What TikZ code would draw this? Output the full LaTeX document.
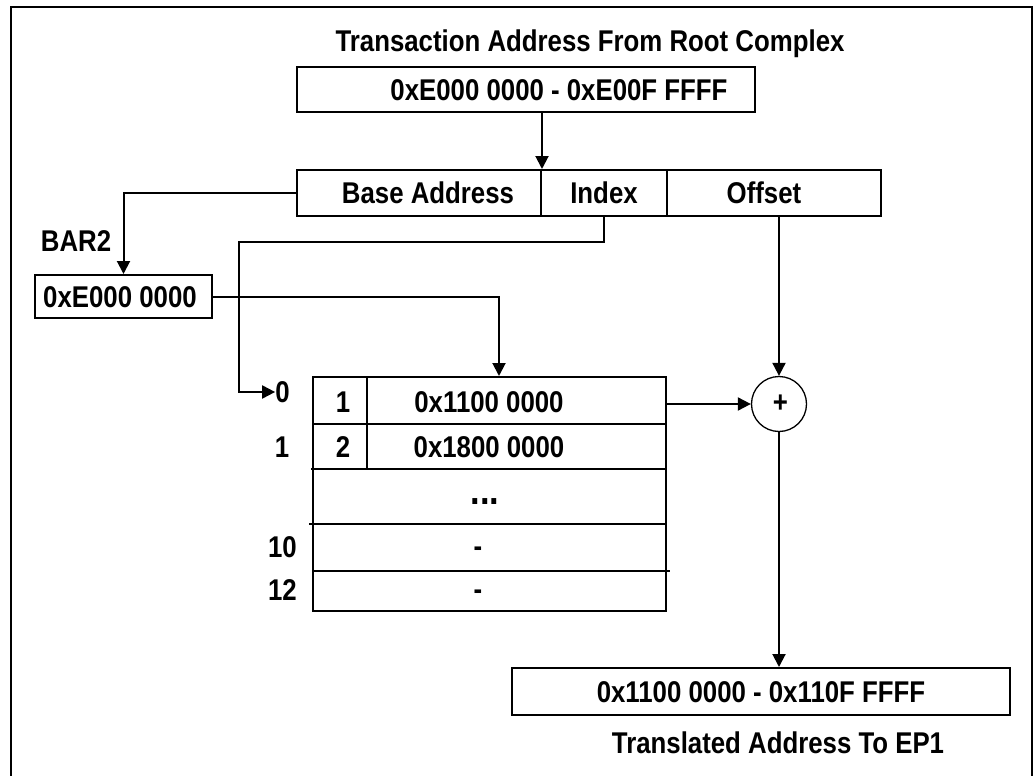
\documentclass[tikz,border=0pt]{standalone}
\usepackage{fontspec}
\setmainfont{Liberation Sans}[FakeStretch=0.86]
\usetikzlibrary{arrows.meta}
\tikzset{
  lbl/.style={font=\bfseries\fontsize{30}{32}\selectfont, inner sep=0pt,
              text height=21.5pt, text depth=0pt},
  box/.style={lbl, draw, line width=2pt},
  wire/.style={line width=2pt},
  arr/.style={wire, -{Triangle[length=13pt,width=13pt]}},
  sum/.style={draw, circle, line width=1.3pt, minimum size=55pt, inner sep=0pt},
}
\begin{document}
\begin{tikzpicture}[x=1pt,y=-1pt]
  \useasboundingbox (0,0) rectangle (1034,776);
  % outer frame (runs off the bottom edge)
  \draw[wire] (11,790) -- (11,7) -- (1032,7) -- (1032,790);

  % incoming transaction address
  \node[lbl] (title) at (590,41) {Transaction Address From Root Complex};
  \node[box, minimum width=458pt, minimum height=45.6pt] (src) at (526,89.5)
       {\hspace*{66pt}0xE000 0000 - 0xE00F FFFF};

  % address split into fields
  \node[box, minimum width=244pt, minimum height=46pt] (base) at (419,193)
       {\hspace*{18pt}Base Address};
  \node[box, minimum width=126pt, minimum height=46pt] (index) at (604,193) {Index};
  \node[box, minimum width=214pt, minimum height=46pt] (offset) at (774,193)
       {Offset\hspace*{20pt}};

  % BAR2 register
  \node[lbl] (barlbl) at (76,241) {BAR2};
  \node[box, minimum width=177pt, minimum height=43pt] (bar) at (123.5,296.5)
       {0xE000 0000\hspace*{7pt}};

  % lookup table
  \node[draw, line width=2pt, minimum width=353pt, minimum height=234pt,
        inner sep=0pt] (tbl) at (489.5,494) {};
  \coordinate (r1) at (313,424);
  \coordinate (r2) at (313,469);
  \coordinate (r3) at (313,524);
  \coordinate (r4) at (313,571);
  \draw[wire] (r1) -- (r1 -| tbl.east);
  \draw[wire] ([xshift=-2pt]r2) -- (r2 -| tbl.east);
  \draw[wire] ([xshift=-4pt]r3) -- (r3 -| tbl.east);
  \draw[wire] (r4) -- ([xshift=3pt]r4 -| tbl.east);
  \draw[wire] (367,377) -- (367,469);

  \node[lbl] (n1) at (343,401.5) {1};
  \node[lbl] (v1) at (489,401.5) {0x1100 0000};
  \node[lbl] (n2) at (343,446.5) {2};
  \node[lbl] (v2) at (489,446.5) {0x1800 0000};
  \node[lbl, anchor=base, text height=, font=\bfseries\fontsize{40}{42}\selectfont]
       (dots) at (485,504) {...};
  \node[lbl, anchor=base, text height=] (d10) at (478,556.5) {-};
  \node[lbl, anchor=base, text height=] (d12) at (478,599.5) {-};

  % index labels
  \node[lbl] (i0) at (282.5,392) {0};
  \node[lbl] (i1) at (282,446.5) {1};
  \node[lbl] (i10) at (282.5,546.5) {10};
  \node[lbl] (i12) at (282.5,590) {12};

  % adder
  \node[sum] (circ) at (779,404) {};
  \node[font=\bfseries\fontsize{30}{32}\selectfont, inner sep=0pt] (plus)
       at ([xshift=1.5pt]circ.center) {+};

  % translated address
  \node[box, minimum width=498pt, minimum height=47pt] (dst) at (761,691.5)
       {0x1100 0000 - 0x110F FFFF};
  \node[lbl] (dstlbl) at (778,743) {Translated Address To EP1};

  % connectors
  \coordinate (jog) at (239,241.5);
  \draw[arr] (base.north east |- src.south) -- (base.north east);
  \draw[arr] (base.west) -| (bar.north);
  \draw[arr] (bar.east) -| ([xshift=9.5pt]tbl.north);
  \draw[arr] (index.south) |- (jog) |- (i0.west);
  \draw[arr] (circ.north |- offset.south) -- (circ.north);
  \draw[arr] (circ.west -| tbl.east) -- (circ.west);
  \draw[arr] (circ.south) -- (circ.south |- dst.north);
\end{tikzpicture}
\end{document}
